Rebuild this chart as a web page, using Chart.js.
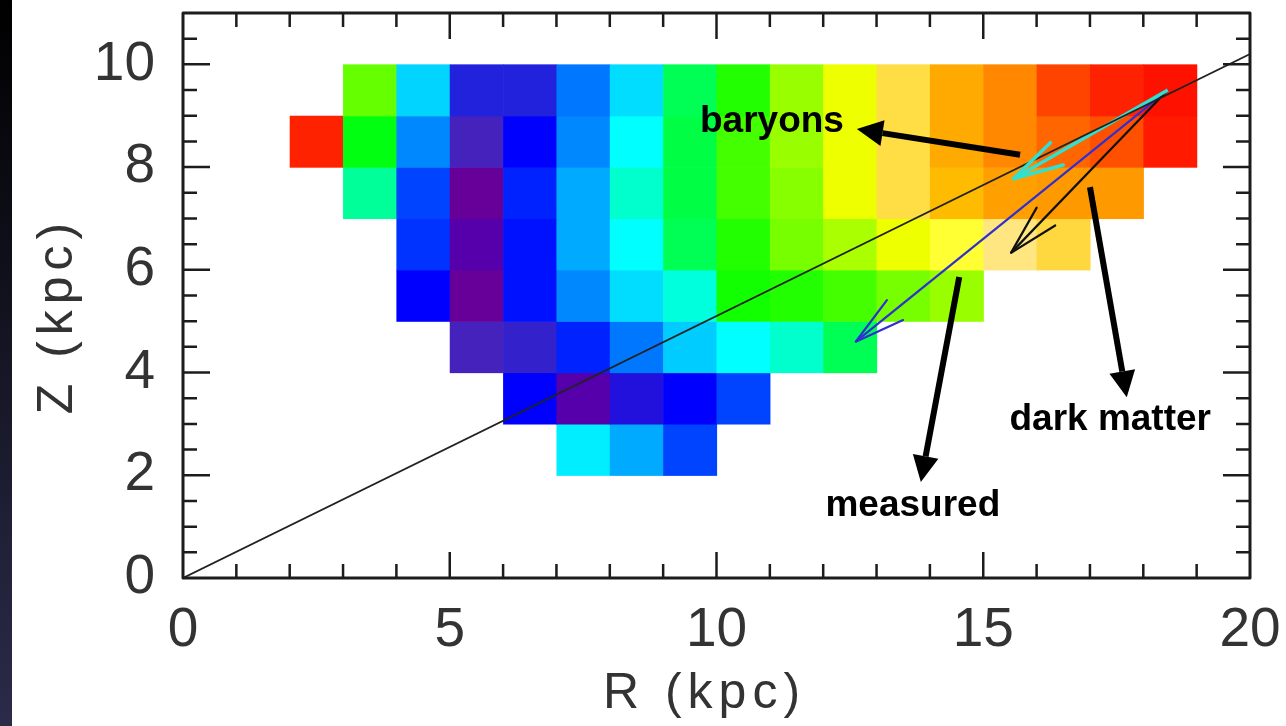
<!DOCTYPE html>
<html>
<head>
<meta charset="utf-8">
<script src="https://cdn.jsdelivr.net/npm/chart.js@4.4.0/dist/chart.umd.min.js"></script>
<style>
  html, body { margin: 0; padding: 0; background: #fff; }
  #wrap { position: relative; width: 1286px; height: 726px; overflow: hidden; }
  #edge { position: absolute; left: 0; top: 0; width: 12px; height: 726px; background: linear-gradient(#000, #2b2b4a); }
  canvas { position: absolute; left: 0; top: 0; }
</style>
</head>
<body>
<div id="wrap">
  <canvas id="mapChart" width="1286" height="726"></canvas>
  <div id="edge"></div>
</div>
<script>
// axis ranges and labelled ticks
const rRange = [0, 20];
const zRange = [0, 11];
const rLabelEvery = 5;
const zLabelEvery = 2;

// map cells: each row is 1 kpc tall, starts at rowStartR, cells 1 kpc wide
const rowZ = [2, 3, 4, 5, 6, 7, 8, 9];
const rowStartR = [7, 6, 5, 4, 4, 3, 2, 3];
const rowColors = [
    ['#00eeff', '#00aaff', '#0044ff'],
    ['#0000ff', '#5500aa', '#2211dd', '#0000ff', '#0044ff'],
    ['#4422bb', '#3322cc', '#0022ff', '#0077ff', '#00ccff', '#00ffff', '#00ffcc', '#00ff55'],
    ['#0000ff', '#660099', '#0011ff', '#0088ff', '#00ddff', '#00ffdd', '#11ff00', '#22ff00', '#44ff00', '#77ff00', '#99ff00'],
    ['#0033ff', '#5500aa', '#0011ff', '#00aaff', '#00ffff', '#00ff55', '#22ff00', '#77ff00', '#aaff00', '#eeff00', '#ffff33', '#ffe680', '#ffd840'],
    ['#00ff99', '#0044ff', '#660099', '#0022ff', '#00aaff', '#00ffcc', '#00ff44', '#44ff00', '#88ff00', '#eeff00', '#ffdd44', '#ffbb00', '#ffa000', '#ff9900', '#ff9900'],
    ['#ff2200', '#00ff11', '#0088ff', '#4422bb', '#0000ff', '#0088ff', '#00ffff', '#00ff44', '#44ff00', '#99ff00', '#eeff00', '#ffdd44', '#ffaa00', '#ff8800', '#ff6600', '#ff5000', '#ff1a00'],
    ['#66ff00', '#00d4ff', '#2222dd', '#2222dd', '#0077ff', '#00ddff', '#00ff55', '#22ff00', '#99ff00', '#eeff00', '#ffdd44', '#ffaa00', '#ff8800', '#ff4400', '#ff2200', '#ff1100']
];

// straight line through the origin
const diagR = [0, 20];
const diagZ = [0, 10.2];

// force vectors from one point
const vecOrigin = [18.46, 9.50];
const vecNames = ['baryons', 'dark matter', 'measured'];
const vecTipR = [15.56, 15.52, 12.61];
const vecTipZ = [7.77, 6.33, 4.60];

// text labels and their pointer arrows
const labelText = ['baryons', 'dark matter', 'measured'];
const labelR = [11.04, 17.38, 13.68];
const labelZ = [8.88, 3.08, 1.40];
const pointerFromR = [15.69, 17.00, 14.55];
const pointerFromZ = [8.24, 7.61, 5.86];
const pointerToR = [12.63, 17.69, 13.83];
const pointerToZ = [8.74, 3.52, 1.87];

const FONT = '"Liberation Sans", Arial, Helvetica, sans-serif';
const vecStyle = [
    { color: '#30e0d0', width: 3.5 },
    { color: '#111111', width: 2.2 },
    { color: '#3030d0', width: 2.2 }
];

// draws the coloured cells under the datasets
const cellsPlugin = {
    id: 'cells',
    beforeDatasetsDraw(chart) {
        const ctx = chart.ctx, x = chart.scales.x, y = chart.scales.y;
        ctx.save();
        rowZ.forEach((z, i) => {
            rowColors[i].forEach((c, j) => {
                const r0 = rowStartR[i] + j;
                const px0 = x.getPixelForValue(r0), px1 = x.getPixelForValue(r0 + 1);
                const py0 = y.getPixelForValue(z + 1), py1 = y.getPixelForValue(z);
                ctx.fillStyle = c;
                ctx.fillRect(px0, py0, px1 - px0 + 0.6, py1 - py0 + 0.6);
            });
        });
        ctx.restore();
    }
};

function openHead(ctx, fx, fy, tx, ty, len, half) {
    const a = Math.atan2(ty - fy, tx - fx);
    ctx.beginPath();
    ctx.moveTo(tx - len * Math.cos(a - half), ty - len * Math.sin(a - half));
    ctx.lineTo(tx, ty);
    ctx.lineTo(tx - len * Math.cos(a + half), ty - len * Math.sin(a + half));
    ctx.stroke();
}

// arrowheads, pointers, labels, frame with inward ticks, axis titles
const overlayPlugin = {
    id: 'overlay',
    afterDatasetsDraw(chart) {
        const ctx = chart.ctx, x = chart.scales.x, y = chart.scales.y;
        const area = chart.chartArea;
        ctx.save();

        // heads of the force vectors
        ctx.lineCap = 'round';
        ctx.lineJoin = 'round';
        const ox = x.getPixelForValue(vecOrigin[0]), oy = y.getPixelForValue(vecOrigin[1]);
        vecNames.forEach((n, i) => {
            ctx.strokeStyle = vecStyle[i].color;
            ctx.lineWidth = vecStyle[i].width;
            openHead(ctx, ox, oy, x.getPixelForValue(vecTipR[i]), y.getPixelForValue(vecTipZ[i]), 52, 0.25);
        });

        // thick pointers with filled heads
        ctx.strokeStyle = '#000';
        ctx.fillStyle = '#000';
        ctx.lineWidth = 6;
        ctx.lineCap = 'butt';
        labelText.forEach((t, i) => {
            const fx = x.getPixelForValue(pointerFromR[i]), fy = y.getPixelForValue(pointerFromZ[i]);
            const tx = x.getPixelForValue(pointerToR[i]), ty = y.getPixelForValue(pointerToZ[i]);
            const a = Math.atan2(ty - fy, tx - fx);
            const hl = 26, hw = 13;
            const bx = tx - hl * Math.cos(a), by = ty - hl * Math.sin(a);
            ctx.beginPath();
            ctx.moveTo(fx, fy);
            ctx.lineTo(bx, by);
            ctx.stroke();
            ctx.beginPath();
            ctx.moveTo(tx, ty);
            ctx.lineTo(bx + hw * Math.sin(a), by - hw * Math.cos(a));
            ctx.lineTo(bx - hw * Math.sin(a), by + hw * Math.cos(a));
            ctx.closePath();
            ctx.fill();
        });

        ctx.font = 'bold 37px ' + FONT;
        ctx.textAlign = 'center';
        ctx.textBaseline = 'middle';
        labelText.forEach((t, i) => {
            ctx.fillText(t, x.getPixelForValue(labelR[i]), y.getPixelForValue(labelZ[i]));
        });

        // frame
        ctx.strokeStyle = '#1c1c1c';
        ctx.lineWidth = 3;
        ctx.lineCap = 'square';
        ctx.strokeRect(area.left, area.top, area.right - area.left, area.bottom - area.top);

        // inward ticks on all four sides
        ctx.lineWidth = 2.5;
        ctx.lineCap = 'butt';
        ctx.beginPath();
        x.ticks.forEach(t => {
            if (t.value <= rRange[0] || t.value >= rRange[1]) return;
            const px = x.getPixelForValue(t.value);
            const len = t.value % rLabelEvery === 0 ? 26 : 14;
            ctx.moveTo(px, area.bottom); ctx.lineTo(px, area.bottom - len);
            ctx.moveTo(px, area.top); ctx.lineTo(px, area.top + len);
        });
        y.ticks.forEach(t => {
            if (t.value <= zRange[0] || t.value >= zRange[1]) return;
            const py = y.getPixelForValue(t.value);
            const len = t.value % zLabelEvery === 0 ? 27 : 14;
            ctx.moveTo(area.left, py); ctx.lineTo(area.left + len, py);
            ctx.moveTo(area.right, py); ctx.lineTo(area.right - len, py);
        });
        ctx.stroke();

        // axis titles
        ctx.fillStyle = '#333';
        ctx.font = '50px ' + FONT;
        ctx.textAlign = 'center';
        ctx.textBaseline = 'alphabetic';
        if ('letterSpacing' in ctx) ctx.letterSpacing = '6px';
        ctx.fillText('R (kpc)', (area.left + area.right) / 2 - 12, 708);
        ctx.translate(72, (area.top + area.bottom) / 2 + 20);
        ctx.rotate(-Math.PI / 2);
        ctx.fillText('Z (kpc)', 0, 0);
        ctx.restore();
    }
};

const datasets = [{
    data: diagR.map((r, i) => ({ x: r, y: diagZ[i] })),
    borderColor: '#222',
    borderWidth: 1.8,
    showLine: true,
    pointRadius: 0
}];
vecNames.forEach((n, i) => {
    datasets.push({
        label: n,
        data: [{ x: vecOrigin[0], y: vecOrigin[1] }, { x: vecTipR[i], y: vecTipZ[i] }],
        borderColor: vecStyle[i].color,
        borderWidth: vecStyle[i].width,
        showLine: true,
        pointRadius: 0
    });
});

new Chart(document.getElementById('mapChart'), {
    type: 'scatter',
    data: { datasets: datasets },
    options: {
        responsive: false,
        animation: false,
        events: [],
        layout: { padding: { left: 0, top: 13, right: 36, bottom: 0 } },
        plugins: { legend: { display: false }, tooltip: { enabled: false } },
        scales: {
            x: {
                type: 'linear',
                min: rRange[0],
                max: rRange[1],
                grid: { display: false, drawTicks: false },
                border: { display: false },
                ticks: {
                    stepSize: 1,
                    autoSkip: false,
                    maxRotation: 0,
                    padding: 20,
                    color: '#333',
                    font: { family: FONT, size: 55 },
                    callback: v => (v % rLabelEvery === 0 ? String(v) : '')
                },
                afterFit(s) { s.height = 148; s.paddingLeft = 0; s.paddingRight = 0; }
            },
            y: {
                type: 'linear',
                min: zRange[0],
                max: zRange[1],
                grid: { display: false, drawTicks: false },
                border: { display: false },
                ticks: {
                    stepSize: 0.5,
                    autoSkip: false,
                    padding: 28,
                    color: '#333',
                    font: { family: FONT, size: 55 },
                    callback: v => (v % zLabelEvery === 0 ? String(v) : '')
                },
                afterFit(s) { s.width = 183; s.paddingTop = 0; s.paddingBottom = 0; }
            }
        }
    },
    plugins: [cellsPlugin, overlayPlugin]
});
</script>
</body>
</html>
